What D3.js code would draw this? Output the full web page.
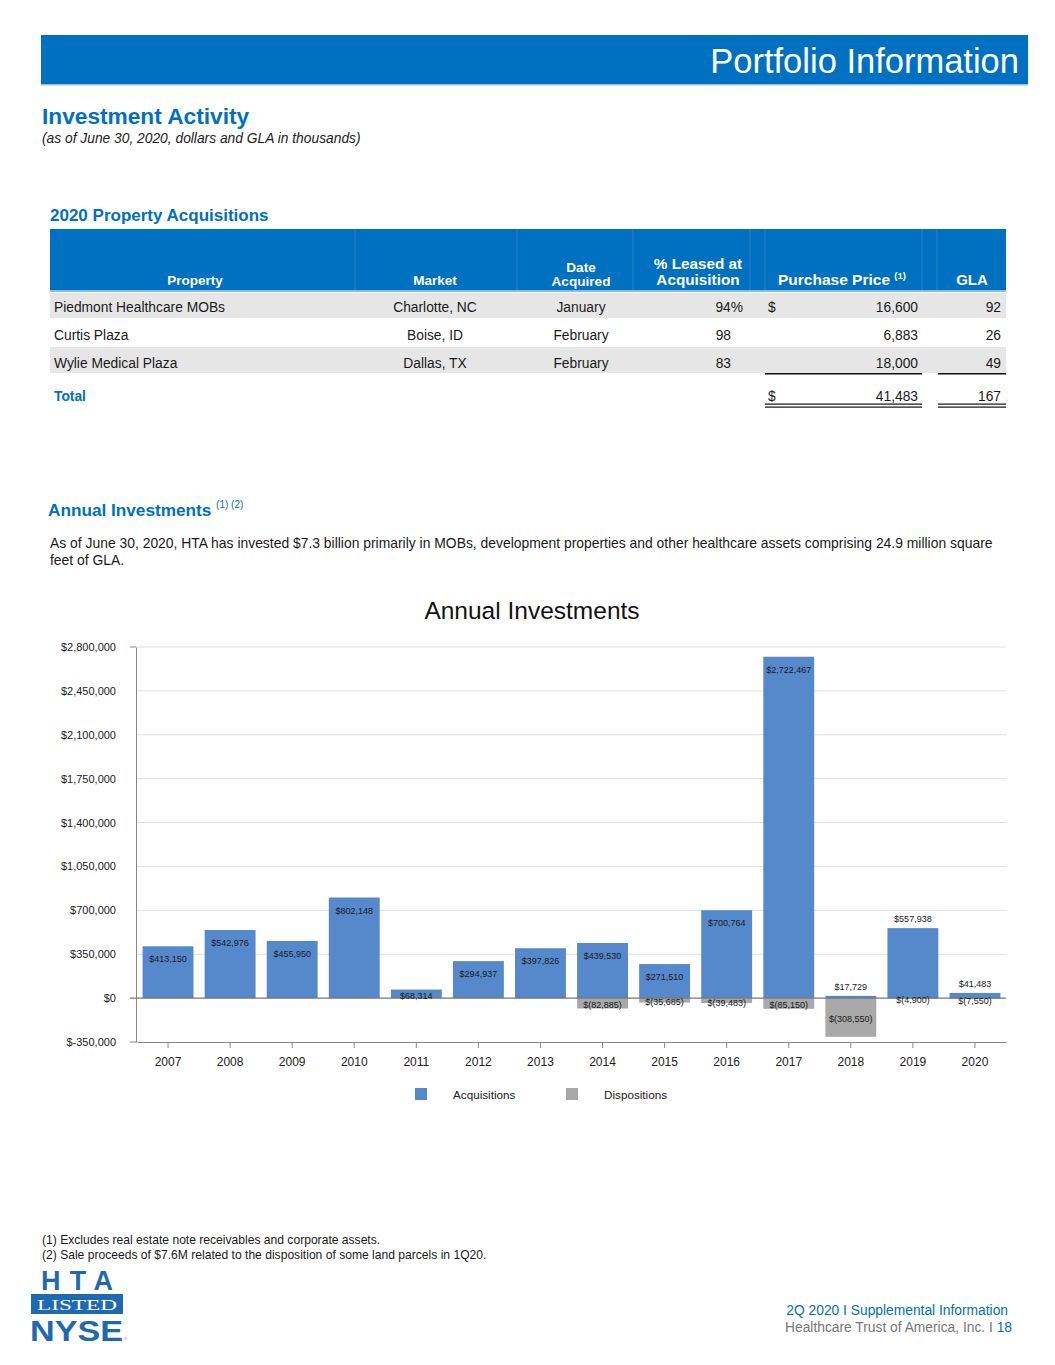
<!DOCTYPE html>
<html>
<head>
<meta charset="utf-8">
<script src="https://cdn.jsdelivr.net/npm/d3@7"></script>
<style>
  body { margin: 0; background: #fff; }
  svg text { font-family: "Liberation Sans", Arial, sans-serif; }
</style>
</head>
<body>
<div id="container"></div>
<script>
// ---- data ----
var years = ["2007","2008","2009","2010","2011","2012","2013","2014","2015","2016","2017","2018","2019","2020"];
var acquisitions = [413150, 542976, 455950, 802148, 68314, 294937, 397826, 439530, 271510, 700764, 2722467, 17729, 557938, 41483];
var dispositions = [null, null, null, null, null, null, null, -82885, -35685, -39483, -85150, -308550, -4900, -7550];
// where the acquisition label sits: inside the bar top or above it
var acqLabelPos = ["in","in","in","in","in","in","in","in","in","in","in","out","out","out"];
var yTicks = [-350000, 0, 350000, 700000, 1050000, 1400000, 1750000, 2100000, 2450000, 2800000];
var seriesNames = ["Acquisitions", "Dispositions"];

var propNames = ["Piedmont Healthcare MOBs", "Curtis Plaza", "Wylie Medical Plaza"];
var markets = ["Charlotte, NC", "Boise, ID", "Dallas, TX"];
var dateAcquired = ["January", "February", "February"];
var pctLeased = [94, 98, 83];
var purchasePrice = [16600, 6883, 18000];
var gla = [92, 26, 49];

var footnotes = [
  "(1) Excludes real estate note receivables and corporate assets.",
  "(2) Sale proceeds of $7.6M related to the disposition of some land parcels in 1Q20."
];

var blue = "#0070C0";
var barBlue = "#5589CB";
var barGray = "#A9A9A9";

var svg = d3.select("#container").append("svg")
  .attr("width", 1055)
  .attr("height", 1365);

// ---- page header ----
svg.append("rect").attr("x", 41).attr("y", 35).attr("width", 987).attr("height", 50).attr("fill", blue);
svg.append("rect").attr("x", 41).attr("y", 84).attr("width", 987).attr("height", 1.5).attr("fill", "#9CC3E6");
svg.append("text").attr("x", 1019).attr("y", 73).attr("text-anchor", "end")
  .attr("fill", "#fff").attr("font-size", 34.5).text("Portfolio Information");

svg.append("text").attr("x", 42).attr("y", 124).attr("fill", blue)
  .attr("font-size", 22.7).attr("font-weight", "bold").text("Investment Activity");
svg.append("text").attr("x", 42).attr("y", 143).attr("fill", "#222")
  .attr("font-size", 13.8).attr("font-style", "italic")
  .text("(as of June 30, 2020, dollars and GLA in thousands)");

// ---- acquisitions table ----
svg.append("text").attr("x", 50).attr("y", 221).attr("fill", blue)
  .attr("font-size", 17).attr("font-weight", "bold").text("2020 Property Acquisitions");

var tX0 = 50, tX1 = 1006;
svg.append("rect").attr("x", tX0).attr("y", 229).attr("width", tX1 - tX0).attr("height", 62).attr("fill", blue);
svg.append("rect").attr("x", tX0).attr("y", 290).attr("width", tX1 - tX0).attr("height", 2).attr("fill", "#8DB9E2");
[355, 517, 633, 750, 765, 922, 937].forEach(function(x){
  svg.append("line").attr("x1", x).attr("x2", x).attr("y1", 229).attr("y2", 290)
    .attr("stroke", "#2A80C8").attr("stroke-width", 1);
});

var hdr = svg.append("g").attr("fill", "#fff").attr("font-weight", "bold").attr("text-anchor", "middle");
hdr.append("text").attr("x", 195).attr("y", 285).attr("font-size", 13.5).text("Property");
hdr.append("text").attr("x", 435).attr("y", 285).attr("font-size", 13.5).text("Market");
hdr.append("text").attr("x", 581).attr("y", 272).attr("font-size", 13.6).text("Date");
hdr.append("text").attr("x", 581).attr("y", 286).attr("font-size", 13.6).text("Acquired");
hdr.append("text").attr("x", 698).attr("y", 269).attr("font-size", 15.3).text("% Leased at");
hdr.append("text").attr("x", 698).attr("y", 285).attr("font-size", 15.3).text("Acquisition");
var pp = hdr.append("text").attr("x", 842).attr("y", 285).attr("font-size", 15.5);
pp.append("tspan").text("Purchase Price ");
pp.append("tspan").attr("font-size", 9.5).attr("dy", -6).text("(1)");
hdr.append("text").attr("x", 972).attr("y", 285).attr("font-size", 15).text("GLA");

var rowY = [293, 321, 347];
var rowH = [25, 25, 26];
var rowBase = [312, 340, 368];
var fmt = d3.format(",");
propNames.forEach(function(p, i){
  if (i !== 1) {
    svg.append("rect").attr("x", tX0).attr("y", rowY[i]).attr("width", tX1 - tX0).attr("height", rowH[i]).attr("fill", "#E6E6E6");
  }
  var by = rowBase[i];
  var g = svg.append("g").attr("font-size", 13.8).attr("fill", "#1a1a1a");
  g.append("text").attr("x", 54).attr("y", by).text(p);
  g.append("text").attr("x", 435).attr("y", by).attr("text-anchor", "middle").text(markets[i]);
  g.append("text").attr("x", 581).attr("y", by).attr("text-anchor", "middle").text(dateAcquired[i]);
  g.append("text").attr("x", i === 0 ? 743 : 731).attr("y", by).attr("text-anchor", "end").text(pctLeased[i] + (i === 0 ? "%" : ""));
  if (i === 0) g.append("text").attr("x", 768).attr("y", by).text("$");
  g.append("text").attr("x", 918).attr("y", by).attr("text-anchor", "end").text(fmt(purchasePrice[i]));
  g.append("text").attr("x", 1001).attr("y", by).attr("text-anchor", "end").text(gla[i]);
});
// subtotal lines
svg.append("rect").attr("x", 765).attr("y", 373).attr("width", 157).attr("height", 1.5).attr("fill", "#111");
svg.append("rect").attr("x", 938).attr("y", 373).attr("width", 68).attr("height", 1.5).attr("fill", "#111");

svg.append("text").attr("x", 54).attr("y", 401).attr("fill", blue).attr("font-size", 13.8)
  .attr("font-weight", "bold").text("Total");
svg.append("text").attr("x", 768).attr("y", 401).attr("font-size", 13.8).attr("fill", "#1a1a1a").text("$");
svg.append("text").attr("x", 918).attr("y", 401).attr("text-anchor", "end").attr("font-size", 13.8)
  .attr("fill", "#1a1a1a").text(fmt(d3.sum(purchasePrice)));
svg.append("text").attr("x", 1001).attr("y", 401).attr("text-anchor", "end").attr("font-size", 13.8)
  .attr("fill", "#1a1a1a").text(d3.sum(gla));
[[765, 157], [938, 68]].forEach(function(s){
  svg.append("rect").attr("x", s[0]).attr("y", 403.5).attr("width", s[1]).attr("height", 1.2).attr("fill", "#111");
  svg.append("rect").attr("x", s[0]).attr("y", 406.5).attr("width", s[1]).attr("height", 1.2).attr("fill", "#111");
});

// ---- annual investments text ----
var ai = svg.append("text").attr("x", 48).attr("y", 516).attr("fill", blue).attr("font-size", 17.2).attr("font-weight", "bold");
ai.append("tspan").text("Annual Investments ");
ai.append("tspan").attr("font-size", 10).attr("font-weight", "normal").attr("dy", -8).text("(1) (2)");
svg.append("text").attr("x", 50).attr("y", 548).attr("font-size", 13.9).attr("fill", "#1a1a1a")
  .text("As of June 30, 2020, HTA has invested $7.3 billion primarily in MOBs, development properties and other healthcare assets comprising 24.9 million square");
svg.append("text").attr("x", 50).attr("y", 565).attr("font-size", 13.9).attr("fill", "#1a1a1a").text("feet of GLA.");

// ---- chart ----
svg.append("text").attr("x", 532).attr("y", 619).attr("text-anchor", "middle")
  .attr("font-size", 24.5).attr("fill", "#111").text("Annual Investments");

var x = d3.scaleBand().domain(years).range([137, 1006]).paddingInner(0.18).paddingOuter(0.09);
var y = d3.scaleLinear().domain([-350000, 2800000]).range([1042, 647]);
function money(v){ return "$" + (v < 0 ? "-" : "") + fmt(Math.abs(v)); }
function paren(v){ return "$(" + fmt(Math.abs(v)) + ")"; }

// gridlines
svg.append("g").selectAll("line").data(yTicks.filter(function(t){ return t > -350000 && t !== 0; }))
  .enter().append("line")
  .attr("x1", 137).attr("x2", 1006)
  .attr("y1", function(d){ return y(d); }).attr("y2", function(d){ return y(d); })
  .attr("stroke", "#E0E0E0").attr("stroke-width", 1);

// y axis
var yAxis = svg.append("g").attr("transform", "translate(136,0)")
  .call(d3.axisLeft(y).tickValues(yTicks).tickFormat(money).tickSize(0).tickPadding(20));
yAxis.select(".domain").attr("stroke", "#888");
yAxis.selectAll(".tick text").attr("font-size", 11).attr("fill", "#222")
  .style("font-family", "'Liberation Sans', Arial, sans-serif");
[2800000, -350000].forEach(function(t){
  svg.append("line").attr("x1", 130).attr("x2", 136).attr("y1", y(t)).attr("y2", y(t))
    .attr("stroke", "#888");
});

// bars
svg.append("g").selectAll("rect").data(acquisitions).enter().append("rect")
  .attr("x", function(d, i){ return x(years[i]); })
  .attr("width", x.bandwidth())
  .attr("y", function(d){ return y(d); })
  .attr("height", function(d){ return y(0) - y(d); })
  .attr("fill", barBlue);

var dispIdx = d3.range(years.length).filter(function(i){ return dispositions[i] !== null; });
svg.append("g").selectAll("rect").data(dispIdx).enter().append("rect")
  .attr("x", function(i){ return x(years[i]); })
  .attr("width", x.bandwidth())
  .attr("y", y(0))
  .attr("height", function(i){ return y(dispositions[i]) - y(0); })
  .attr("fill", barGray);

// zero line and bottom axis
svg.append("line").attr("x1", 130).attr("x2", 1006).attr("y1", y(0)).attr("y2", y(0))
  .attr("stroke", "#777").attr("stroke-width", 1.2);
var xAxis = svg.append("g").attr("transform", "translate(0,1042)")
  .call(d3.axisBottom(x).tickSize(6).tickPadding(9).tickSizeOuter(0));
xAxis.select(".domain").attr("stroke", "#888");
xAxis.selectAll(".tick line").attr("stroke", "#888");
xAxis.selectAll(".tick text").attr("font-size", 12).attr("fill", "#222")
  .style("font-family", "'Liberation Sans', Arial, sans-serif");

// data labels
svg.append("g").selectAll("text").data(acquisitions).enter().append("text")
  .attr("x", function(d, i){ return x(years[i]) + x.bandwidth() / 2; })
  .attr("y", function(d, i){
    if (acqLabelPos[i] === "out") return y(d) - 6;
    return Math.min(y(d) + 16, y(0) + 1);
  })
  .attr("text-anchor", "middle").attr("font-size", 9).attr("fill", "#1a1a1a")
  .text(money);

svg.append("g").selectAll("text").data(dispIdx).enter().append("text")
  .attr("x", function(i){ return x(years[i]) + x.bandwidth() / 2; })
  .attr("y", function(i){ return (y(0) + y(dispositions[i])) / 2 + 5; })
  .attr("text-anchor", "middle").attr("font-size", 9).attr("fill", "#1a1a1a")
  .text(function(i){ return paren(dispositions[i]); });

// legend
var legend = svg.append("g").selectAll("g").data(seriesNames).enter().append("g")
  .attr("transform", function(d, i){ return "translate(" + (415 + i * 151) + ",1088)"; });
legend.append("rect").attr("width", 12).attr("height", 12)
  .attr("fill", function(d, i){ return i === 0 ? barBlue : barGray; });
legend.append("text").attr("x", 38).attr("y", 10.5).attr("font-size", 11.7).attr("fill", "#222")
  .text(function(d){ return d; });

// ---- footnotes ----
svg.append("g").selectAll("text").data(footnotes).enter().append("text")
  .attr("x", 42).attr("y", function(d, i){ return 1244 + i * 15; })
  .attr("font-size", 12.1).attr("fill", "#1a1a1a").text(function(d){ return d; });

// ---- footer ----
svg.append("text").attr("x", 1008).attr("y", 1315).attr("text-anchor", "end")
  .attr("font-size", 13.8).attr("fill", blue).text("2Q 2020 I Supplemental Information");
var ft = svg.append("text").attr("x", 1012).attr("y", 1332).attr("text-anchor", "end").attr("font-size", 13.8);
ft.append("tspan").attr("fill", "#777").text("Healthcare Trust of America, Inc. I ");
ft.append("tspan").attr("fill", blue).text("18");

// logo
var logoBlue = "#1F69B0";
svg.append("text").attr("x", 41).attr("y", 1290).attr("font-size", 27).attr("font-weight", "bold")
  .attr("fill", logoBlue).attr("textLength", 72).attr("lengthAdjust", "spacing").text("HTA");
svg.append("rect").attr("x", 31).attr("y", 1294).attr("width", 92).attr("height", 20).attr("fill", logoBlue);
svg.append("text").attr("x", 37).attr("y", 1309.5).attr("font-size", 15)
  .style("font-family", "'Liberation Serif', 'Times New Roman', serif")
  .attr("fill", "#fff").attr("textLength", 80).attr("lengthAdjust", "spacingAndGlyphs").text("LISTED");
svg.append("text").attr("x", 30).attr("y", 1341).attr("font-size", 30).attr("font-weight", "bold")
  .attr("fill", logoBlue).attr("textLength", 93).attr("lengthAdjust", "spacingAndGlyphs").text("NYSE");
svg.append("text").attr("x", 124).attr("y", 1340).attr("font-size", 4).attr("fill", logoBlue).text("®");
</script>
</body>
</html>
